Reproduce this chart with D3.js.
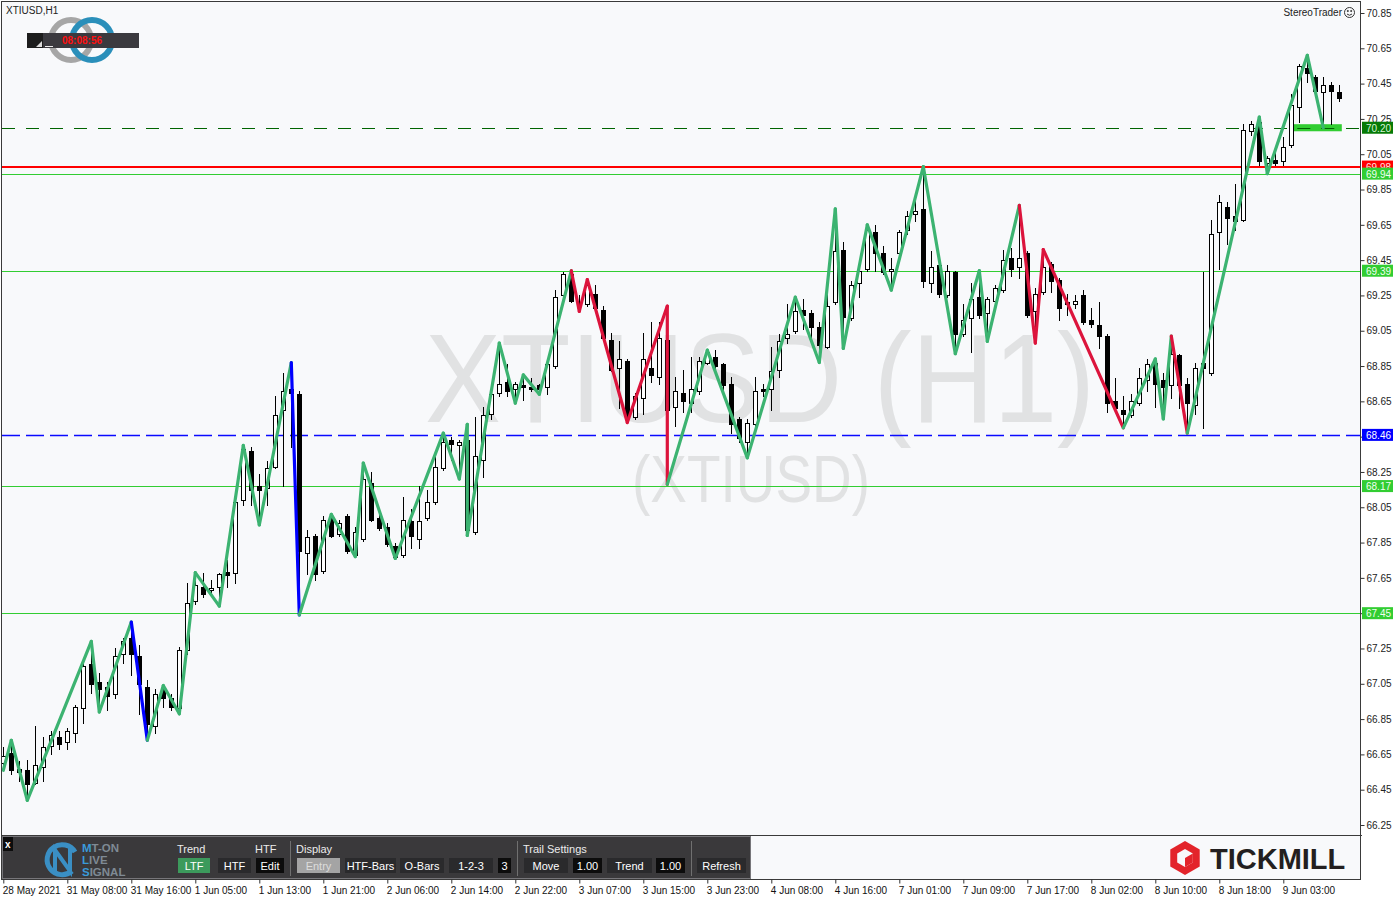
<!DOCTYPE html>
<html><head><meta charset="utf-8">
<script src="https://cdn.jsdelivr.net/npm/d3@7"></script>
<style>
body{margin:0;background:#fff;}
svg{display:block;font-family:"Liberation Sans",Arial,sans-serif;}
</style></head><body>
<svg id="chart" width="1400" height="900"></svg>
<script>
// ---------------- DATA ----------------
const symbolTitle = "XTIUSD,H1";
const watermarkMain = "XTIUSD (H1)";
const watermarkSub = "(XTIUSD)";
const clockText = "08:08:56";

const open  = [66.60,66.66,66.55,66.56,66.49,66.58,66.70,66.75,66.72,66.77,66.91,67.16,67.06,67.03,66.99,67.22,67.31,67.21,67.03,66.81,
67.02,66.97,66.91,67.24,67.52,67.60,67.58,67.60,67.685,67.68,68.09,68.37,68.17,68.16,68.28,68.60,68.72,68.69,67.79,67.89,
67.69,68.00,67.90,68.00,67.78,67.87,68.19,67.99,67.94,67.83,67.78,67.97,67.87,67.99,68.08,68.27,68.43,68.40,68.43,67.91,
68.32,68.58,68.70,68.76,68.72,68.74,68.73,68.74,68.73,68.85,69.25,69.37,69.21,69.20,69.26,69.17,69.00,68.84,68.88,68.56,
68.67,68.84,68.79,69.00,68.62,68.70,68.64,68.71,68.87,68.90,68.86,68.75,68.55,68.42,68.52,68.72,68.72,68.83,69.01,69.05,
69.17,69.15,69.07,68.96,69.21,69.51,69.12,69.32,69.40,69.61,69.49,69.39,69.49,69.62,69.71,69.74,69.32,69.42,69.25,69.38,
69.03,69.12,69.24,69.15,69.22,69.28,69.46,69.41,69.49,69.16,69.27,69.43,69.34,69.20,69.20,69.25,69.11,69.08,69.02,68.65,
68.60,68.57,68.64,68.77,68.87,68.77,68.74,68.91,68.75,68.63,68.87,68.81,69.61,69.75,69.70,69.68,70.18,70.23,70.00,70.02,
70.01,70.10,70.32,70.54,70.49,70.40,70.44,70.40];
const high  = [66.69,66.73,66.61,66.62,66.81,66.75,66.78,66.78,66.80,66.93,67.18,67.29,67.11,67.06,67.25,67.31,67.40,67.27,67.07,67.02,
67.04,66.99,67.26,67.62,67.68,67.68,67.64,67.68,67.75,68.09,68.40,68.39,68.24,68.31,68.68,68.81,68.87,68.71,67.92,67.90,
68.00,68.01,67.98,68.01,67.94,68.30,68.25,68.04,67.96,67.85,68.11,68.04,68.17,68.15,68.37,68.47,68.45,68.43,68.52,68.56,
68.62,68.72,68.98,68.86,68.76,68.80,68.78,68.75,68.87,69.28,69.38,69.39,69.25,69.34,69.31,69.19,69.04,68.99,68.89,68.70,
69.04,69.10,69.10,69.19,68.79,68.83,68.90,68.90,68.94,68.94,68.87,68.79,68.56,68.55,68.79,68.75,68.96,69.03,69.20,69.24,
69.23,69.17,69.10,69.28,69.74,69.55,69.33,69.41,69.65,69.65,69.53,69.46,69.62,69.73,69.81,69.98,69.50,69.43,69.42,69.39,
69.20,69.32,69.39,69.24,69.31,69.51,69.52,69.76,69.50,69.29,69.51,69.44,69.35,69.26,69.25,69.28,69.18,69.21,69.03,68.78,
68.68,68.69,68.84,68.89,68.89,68.81,69.02,68.92,68.78,68.87,69.38,69.68,69.82,69.78,69.88,70.22,70.24,70.26,70.04,70.07,
70.15,70.39,70.56,70.61,70.50,70.49,70.46,70.44];
const low   = [66.56,66.54,66.50,66.39,66.48,66.50,66.65,66.68,66.68,66.72,66.83,67.00,66.89,66.90,66.97,67.17,67.10,66.88,66.73,66.77,
66.92,66.90,66.88,67.22,67.50,67.54,67.55,67.49,67.60,67.62,68.06,68.06,67.95,68.06,68.27,68.17,68.39,67.44,67.67,67.64,
67.68,67.88,67.89,67.79,67.77,67.86,67.97,67.92,67.83,67.76,67.77,67.82,67.82,67.98,68.07,68.26,68.32,68.21,67.89,67.90,
68.22,68.55,68.68,68.68,68.64,68.66,68.71,68.69,68.69,68.84,69.24,69.21,69.16,69.19,69.17,69.00,68.82,68.61,68.53,68.55,
68.58,68.76,68.75,68.18,68.51,68.59,68.59,68.69,68.86,68.84,68.71,68.47,68.42,68.33,68.51,68.68,68.60,68.79,68.98,69.04,
69.06,68.98,68.87,68.95,69.20,68.95,69.11,69.24,69.39,69.39,69.37,69.28,69.45,69.60,69.67,69.30,69.27,69.24,69.24,68.92,
69.02,68.93,69.12,68.99,69.21,69.27,69.36,69.35,69.13,68.98,69.26,69.27,69.11,69.14,69.18,69.09,69.07,68.95,68.59,68.60,
68.50,68.56,68.63,68.71,68.62,68.55,68.67,68.61,68.47,68.58,68.50,68.80,69.40,69.54,69.62,69.67,70.16,69.99,69.94,69.99,
69.99,70.09,70.23,70.46,70.39,70.20,70.22,70.35];
const close = [66.64,66.56,66.57,66.48,66.59,66.69,66.76,66.71,66.78,66.92,67.15,67.05,67.02,66.98,67.21,67.29,67.22,67.05,66.82,66.99,
66.97,66.92,67.24,67.51,67.61,67.56,67.59,67.67,67.665,68.08,68.38,68.15,68.15,68.27,68.57,68.71,68.70,67.80,67.88,67.67,
67.98,67.89,67.96,67.80,67.91,68.21,67.98,67.93,67.84,67.77,67.98,67.89,67.97,68.08,68.28,68.42,68.41,68.42,67.92,68.34,
68.57,68.69,68.75,68.71,68.75,68.73,68.72,68.72,68.86,69.24,69.37,69.22,69.20,69.31,69.18,69.01,68.83,68.89,68.57,68.68,
68.89,68.80,69.01,68.60,68.71,68.65,68.72,68.88,68.93,68.85,68.74,68.52,68.44,68.53,68.71,68.71,68.82,68.99,69.03,69.16,
69.14,69.07,68.97,69.19,69.50,69.13,69.31,69.39,69.62,69.49,69.38,69.40,69.61,69.70,69.73,69.33,69.41,69.26,69.39,69.03,
69.11,69.23,69.14,69.23,69.29,69.45,69.40,69.46,69.14,69.26,69.41,69.33,69.18,69.21,69.22,69.10,69.09,69.02,68.64,68.61,
68.58,68.65,68.78,68.86,68.75,68.73,68.92,68.74,68.64,68.84,68.84,69.60,69.78,69.69,69.67,70.19,70.22,70.01,70.03,70.00,
70.09,70.33,70.55,70.51,70.41,70.44,70.41,70.37];

// zigzag pivots (bar index, price) and the kind of the leg that ends at each pivot
const zzBar   = [0,1,3,11,12,16,18,20,22,24,27,30,32,36,37,41,44,45,49,55,57,58,58,62,64,65,67,71,72,73,78,83,83,88,93,99,102,104,105,108,111,115,119,122,123,127,129,130,140,144,145,146,148,157,158,163,165];
const zzPrice = [66.56,66.73,66.39,67.29,66.89,67.40,66.73,67.04,66.88,67.68,67.49,68.40,67.95,68.87,67.44,68.01,67.77,68.30,67.76,68.47,68.21,68.52,67.89,68.98,68.64,68.80,68.69,69.39,69.16,69.34,68.53,69.19,68.18,68.94,68.33,69.24,68.87,69.74,68.95,69.65,69.28,69.98,68.92,69.39,68.99,69.76,68.98,69.51,68.50,68.89,68.55,69.02,68.47,70.26,69.94,70.61,70.20];
const zzLeg   = ["start","main","main","main","main","main","htf","main","main","main","main","main","main","main","htf","main","main","main","main","main","main","main","main","main","main","main","main","main",
"down","down","down","down","down","main","main","main","main","main","main","main","main","main","main","main","main","main","down","down","down","main","main","main","down","main","main","main","main"];

// horizontal levels
const levelPrices = [70.20, 69.98, 69.94, 69.39, 68.46, 68.17, 67.45];
const levelKinds  = ["target","resistance","support","zone","pivot","zone","zone"];
const targetZoneBars = [161, 167];
const targetZonePrices = [70.18, 70.22];

// axes
const priceTicks = [70.85,70.65,70.45,70.25,70.05,69.85,69.65,69.45,69.25,69.05,68.85,68.65,68.45,68.25,68.05,67.85,67.65,67.45,67.25,67.05,66.85,66.65,66.45,66.25];
const timeTickBars = [0,8,16,24,32,40,48,56,64,72,80,88,96,104,112,120,128,136,144,152,160];
const timeTickLabels = ["28 May 2021","31 May 08:00","31 May 16:00","1 Jun 05:00","1 Jun 13:00","1 Jun 21:00","2 Jun 06:00","2 Jun 14:00","2 Jun 22:00","3 Jun 07:00","3 Jun 15:00","3 Jun 23:00","4 Jun 08:00","4 Jun 16:00","7 Jun 01:00","7 Jun 09:00","7 Jun 17:00","8 Jun 02:00","8 Jun 10:00","8 Jun 18:00","9 Jun 03:00"];

// toolbar texts
const panelHeaders = ["Trend","HTF","Display","Trail Settings"];
const panelButtons = ["LTF","HTF","Edit","Entry","HTF-Bars","O-Bars","1-2-3","3","Move","1.00","Trend","1.00","Refresh"];
const logoWords = [["M","T-ON"],["L","IVE"],["S","IGNAL"]];

// ---------------- STYLE / LAYOUT ----------------
const plotL = 2, plotR = 1360, plotT = 2, plotB = 879, mainB = 835;
const legColor = {main:"#3cb371", down:"#dc143c", htf:"#0000ff"};
const levelStyle = {
  target:{stroke:"#006400", dash:"13,11", w:1, crisp:true, bg:"#067a06", fg:"#d8f5d8"},
  resistance:{stroke:"#ff0000", dash:null, w:2, crisp:true, bg:"#ff0000", fg:"#ffe0e0"},
  support:{stroke:"#32cd32", dash:null, w:1, crisp:true, bg:"#32cd32", fg:"#f0fff0"},
  zone:{stroke:"#32cd32", dash:null, w:1, crisp:true, bg:"#32cd32", fg:"#f0fff0"},
  pivot:{stroke:"#0a0aff", dash:"18,6", w:1.4, crisp:false, bg:"#0000ff", fg:"#ffffff"}
};

const svg = d3.select("#chart");
const x = d3.scaleLinear().domain([0, 167]).range([3.3, 1339.3]);
const y = d3.scaleLinear().domain([66.25, 70.85]).range([825, 13]);

// background
svg.append("rect").attr("width",1400).attr("height",900).attr("fill","#ffffff");
svg.append("rect").attr("x",plotL).attr("y",plotT).attr("width",plotR-plotL).attr("height",plotB-plotT).attr("fill","#f8f9fb");

// watermark
svg.append("text").attr("x",760).attr("y",422).attr("text-anchor","middle")
  .attr("font-size",126).attr("fill","#e1e2e3").attr("textLength",670).attr("lengthAdjust","spacingAndGlyphs")
  .text(watermarkMain);
svg.append("text").attr("x",751).attr("y",502).attr("text-anchor","middle")
  .attr("font-size",66).attr("fill","#e1e2e3").attr("textLength",238).attr("lengthAdjust","spacingAndGlyphs")
  .text(watermarkSub);

// levels
const lv = svg.append("g");
levelPrices.forEach((p,i)=>{
  const s = levelStyle[levelKinds[i]];
  const yy = s.crisp ? Math.round(y(p)) + (s.w===1?0.5:0) : Math.round(y(p)) + 0.5;
  const ln = lv.append("line").attr("x1",plotL).attr("x2",plotR).attr("y1",yy).attr("y2",yy)
    .attr("stroke",s.stroke).attr("stroke-width",s.w);
  if (s.crisp) ln.attr("shape-rendering","crispEdges");
  if (s.dash) ln.attr("stroke-dasharray",s.dash);
});

// target zone
svg.append("rect")
  .attr("x",x(targetZoneBars[0])+2.5).attr("width",x(targetZoneBars[1])-x(targetZoneBars[0]))
  .attr("y",y(targetZonePrices[1])).attr("height",y(targetZonePrices[0])-y(targetZonePrices[1]))
  .attr("fill","#32cd32");
svg.append("line").attr("x1",x(targetZoneBars[0])+6).attr("x2",x(targetZoneBars[1])-2)
  .attr("y1",Math.round(y(levelPrices[0]))+0.5).attr("y2",Math.round(y(levelPrices[0]))+0.5)
  .attr("stroke","#006400").attr("stroke-width",1).attr("stroke-dasharray","13,11");

// candles
const bars = d3.range(open.length);
const cg = svg.append("g").attr("shape-rendering","crispEdges");
const candle = cg.selectAll("g").data(bars).join("g");
candle.append("line")
  .attr("x1",i=>Math.round(x(i))+0.5).attr("x2",i=>Math.round(x(i))+0.5)
  .attr("y1",i=>Math.round(y(high[i]))).attr("y2",i=>Math.round(y(low[i]))+1)
  .attr("stroke","#000");
candle.append("rect")
  .attr("x",i=> close[i]>=open[i] ? Math.round(x(i))-1.5 : Math.round(x(i))-2)
  .attr("y",i=> Math.round(y(Math.max(open[i],close[i]))) + (close[i]>=open[i]?0.5:0))
  .attr("width",i=> close[i]>=open[i] ? 4 : 5)
  .attr("height",i=>{
    const h = Math.round(y(Math.min(open[i],close[i]))) - Math.round(y(Math.max(open[i],close[i])));
    return close[i]>=open[i] ? Math.max(h,1) : Math.max(h,1)+1;
  })
  .attr("fill",i=> close[i]>=open[i] ? "#ffffff" : "#000000")
  .attr("stroke",i=> close[i]>=open[i] ? "#000" : "none");

// zigzag
const zg = svg.append("g");
for (let k=1;k<zzBar.length;k++){
  zg.append("line")
    .attr("x1",x(zzBar[k-1])).attr("y1",y(zzPrice[k-1]))
    .attr("x2",x(zzBar[k])).attr("y2",y(zzPrice[k]))
    .attr("stroke",legColor[zzLeg[k]]).attr("stroke-width",3.2).attr("stroke-linecap","round");
}

// white margins outside plot
svg.append("rect").attr("x",plotR).attr("y",0).attr("width",1400-plotR).attr("height",900).attr("fill","#fff");
svg.append("rect").attr("x",0).attr("y",plotB).attr("width",1400).attr("height",900-plotB).attr("fill","#fff");
// lower sub-window (covers overflow below the main pane)
svg.append("rect").attr("x",plotL).attr("y",mainB).attr("width",plotR-plotL).attr("height",plotB-mainB).attr("fill","#f8f9fb");

// frame
svg.append("rect").attr("x",plotL-0.5).attr("y",plotT-0.5).attr("width",plotR-plotL+1).attr("height",plotB-plotT+1)
  .attr("fill","none").attr("stroke","#3a3a3a").attr("stroke-width",1);
svg.append("line").attr("x1",plotL).attr("x2",plotR+2).attr("y1",mainB+0.5).attr("y2",mainB+0.5).attr("stroke","#3a3a3a");

// price axis
const ya = svg.append("g").attr("transform",`translate(${plotR+0.5},0)`)
  .call(d3.axisRight(y).tickValues(priceTicks).tickFormat(d3.format(".2f")).tickSize(4).tickPadding(2));
ya.select(".domain").remove();
ya.selectAll("line").attr("stroke","#333");
ya.selectAll("text").attr("font-size",10).attr("fill","#222").attr("font-family","Liberation Sans, Arial");

// colored price labels
levelPrices.forEach((p,i)=>{
  const s = levelStyle[levelKinds[i]];
  const yy = y(p);
  svg.append("rect").attr("x",plotR+2).attr("y",yy-6).attr("width",31).attr("height",12).attr("fill",s.bg);
  svg.append("text").attr("x",plotR+6).attr("y",yy+4).attr("font-size",10).attr("fill",s.fg).text(d3.format(".2f")(p));
});

// time axis
const xa = svg.append("g").attr("transform",`translate(0,${plotB+0.5})`)
  .call(d3.axisBottom(x).tickValues(timeTickBars).tickFormat((d,i)=>timeTickLabels[i]).tickSize(4).tickPadding(3));
xa.select(".domain").remove();
xa.selectAll("line").attr("stroke","#333");
xa.selectAll("text").attr("font-size",10).attr("fill","#111").attr("text-anchor","start").attr("dx",-1).attr("font-family","Liberation Sans, Arial");

// title
svg.append("text").attr("x",6).attr("y",14).attr("font-size",10).attr("fill","#222").text(symbolTitle);

// clock logo
const lg = svg.append("g");
lg.append("circle").attr("cx",71).attr("cy",40).attr("r",20).attr("fill","none").attr("stroke","#a6a6a6").attr("stroke-width",6);
lg.append("circle").attr("cx",92).attr("cy",40).attr("r",20).attr("fill","none").attr("stroke","#2a8fba").attr("stroke-width",6);
lg.append("rect").attr("x",27).attr("y",33).attr("width",112).attr("height",15).attr("fill","#3b3a3f");
lg.append("rect").attr("x",27).attr("y",33).attr("width",16).attr("height",15).attr("fill","#1d1d1d");
lg.append("path").attr("d","M36,47 L42,41 L42,47 Z").attr("fill","#ddd");
lg.append("line").attr("x1",45).attr("x2",53).attr("y1",46.5).attr("y2",46.5).attr("stroke","#eee");
lg.append("text").attr("x",82).attr("y",44).attr("text-anchor","middle").attr("font-size",10).attr("font-weight","bold").attr("fill","#ff1010").text(clockText);

// StereoTrader
svg.append("text").attr("x",1342).attr("y",16).attr("text-anchor","end").attr("font-size",10).attr("fill","#222").text("StereoTrader");
const sm = svg.append("g").attr("fill","none").attr("stroke","#333");
sm.append("circle").attr("cx",1349.5).attr("cy",12.5).attr("r",5);
sm.append("path").attr("d","M1347,14 Q1349.5,16.5 1352,14");
sm.append("circle").attr("cx",1347.8).attr("cy",11).attr("r",0.6).attr("fill","#333");
sm.append("circle").attr("cx",1351.2).attr("cy",11).attr("r",0.6).attr("fill","#333");

// toolbar panel
const pn = svg.append("g");
pn.append("rect").attr("x",2.5).attr("y",836.5).attr("width",748).attr("height",42).attr("fill","#3a393b").attr("stroke","#77767a");
pn.append("rect").attr("x",3).attr("y",837).attr("width",10).attr("height",14).attr("fill","#0c0c0c");
pn.append("text").attr("x",5).attr("y",848).attr("font-size",10).attr("font-weight","bold").attr("fill","#fff").text("x");
// MT-ON logo
const ic = pn.append("g").attr("fill","none").attr("stroke","#3a8fc4").attr("stroke-width",5);
ic.append("path").attr("d","M72,871 A15,15 0 1 1 75,852");
ic.append("path").attr("d","M55,873 L55,850 L70,871 L70,846").attr("stroke-width",4);
const logoY = [852,864,876];
logoWords.forEach((w,i)=>{
  const t = pn.append("text").attr("x",82).attr("y",logoY[i]).attr("font-size",11.5).attr("font-weight","bold");
  t.append("tspan").attr("fill","#3a9ad9").text(w[0]);
  t.append("tspan").attr("fill","#7f8a94").text(w[1]);
});
const hdrX = [177,255,296,523];
panelHeaders.forEach((h,i)=>pn.append("text").attr("x",hdrX[i]).attr("y",853).attr("font-size",11).attr("fill","#ececec").text(h));
const btnX = [178,218,256,297,345,400,449,498,524,573,607,656,697];
const btnW = [32,33,28,43,51,44,44,13,44,29,45,29,49];
const btnBg = ["#3c9a5c","#2a2a2c","#0c0c0c","#a4a4a4","#2a2a2c","#2a2a2c","#2a2a2c","#0c0c0c","#2a2a2c","#0c0c0c","#2a2a2c","#0c0c0c","#2a2a2c"];
panelButtons.forEach((b,i)=>{
  pn.append("rect").attr("x",btnX[i]).attr("y",858).attr("width",btnW[i]).attr("height",15).attr("fill",btnBg[i]);
  pn.append("text").attr("x",btnX[i]+btnW[i]/2).attr("y",869.5).attr("text-anchor","middle").attr("font-size",11)
    .attr("fill", b==="Entry" ? "#dcdcdc" : "#ffffff").text(b);
});
[290,517,691].forEach(sx=>pn.append("line").attr("x1",sx+0.5).attr("x2",sx+0.5).attr("y1",841).attr("y2",876).attr("stroke","#707070"));

// Tickmill logo
const tk = svg.append("g");
const hex = d3.range(6).map(k=>{const a=Math.PI/3*k - Math.PI/2; return [1185+17*Math.cos(a), 858+17*Math.sin(a)];});
tk.append("path").attr("d","M"+hex.join("L")+"Z").attr("fill","#e3242b");
const hex2 = d3.range(6).map(k=>{const a=Math.PI/3*k - Math.PI/2; return [1185+9*Math.cos(a), 858+9*Math.sin(a)];});
tk.append("path").attr("d","M"+hex2.join("L")+"Z").attr("fill","#f8f9fb");
tk.append("path").attr("d",`M1185,858 L${hex2[1][0]},${hex2[1][1]} L${hex2[2][0]},${hex2[2][1]} L1185,867 Z`).attr("fill","#e3242b");
tk.append("text").attr("x",1210).attr("y",869).attr("font-size",29).attr("font-weight","bold").attr("fill","#231f20").text("TICKMILL");
</script>
</body></html>
